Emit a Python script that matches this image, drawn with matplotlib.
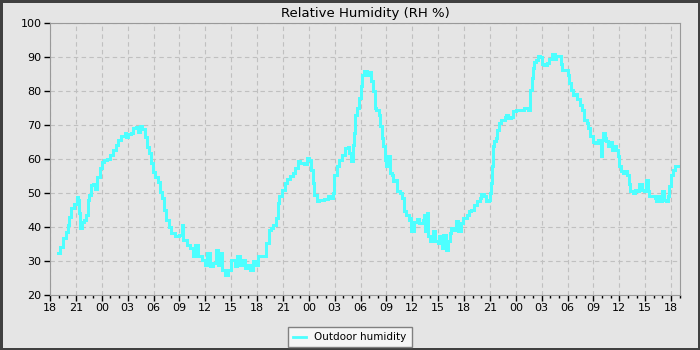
import matplotlib
matplotlib.use('Agg')
import matplotlib.pyplot as plt
from matplotlib.ticker import MultipleLocator, FuncFormatter

# hours since 18:00 on the first day, and outdoor RH %
hours = [0.88, 1.2, 1.46, 1.85, 2.04, 2.23, 2.42, 2.73, 3.08, 3.27, 3.42, 3.5, 3.7, 3.96, 4.15,
         4.35, 4.5, 4.73, 5.04, 5.23, 5.5, 5.77, 6.0, 6.27, 6.65, 6.96, 7.3, 7.6, 7.9, 8.27,
         8.65, 8.85, 9.04, 9.35, 9.65, 10.0, 10.2, 10.4, 10.7, 10.96, 11.2, 11.46, 11.73, 11.96,
         12.2, 12.5, 12.7, 13.0, 13.27, 13.5, 13.8, 14.04, 14.2, 14.5, 14.9, 15.27, 15.46,
         15.85, 16.2, 16.6, 16.8, 17.2, 17.6, 17.96, 18.15, 18.5, 18.9, 19.2, 19.5, 19.7, 19.9,
         20.3, 20.65, 21.04, 21.4, 21.7, 22.0, 22.3, 22.6, 23.0, 23.15, 23.5, 23.85, 24.1,
         24.5, 24.9, 25.1, 25.35, 25.65, 25.9, 26.15, 26.4, 26.6, 26.9, 27.2, 27.46, 27.8,
         28.15, 28.46, 28.7, 29.0, 29.4, 29.8, 30.08, 30.27, 30.46, 30.65, 30.96, 31.2, 31.8,
         32.2, 32.6, 32.8, 32.96, 33.27, 33.5, 33.9, 34.2, 34.5, 34.7, 34.9, 35.1, 35.27, 35.4,
         35.6, 35.85, 36.04, 36.15, 36.4, 36.7, 37.1, 37.27, 37.5, 37.65, 37.85, 38.1, 38.3,
         38.5, 38.65, 38.8, 39.0, 39.2, 39.4, 39.6, 39.8, 40.1, 40.27, 40.6, 40.85, 41.04,
         41.3, 41.6, 41.8, 41.9, 42.2, 42.5, 42.8, 43.2, 43.35, 43.46, 43.7, 43.85, 44.1,
         44.35, 44.6, 45.0, 45.1, 45.4, 45.6, 45.9, 46.15, 46.35, 46.5, 46.8, 47.04, 47.3,
         47.6, 47.9, 48.3, 48.6, 48.85, 49.2, 49.5, 49.8, 50.0, 50.27, 50.6, 50.85, 51.04,
         51.15, 51.27, 51.4, 51.5, 51.7, 51.85, 52.0, 52.3, 52.7, 52.9, 53.1, 53.46, 53.65,
         54.04, 54.6, 54.9, 55.2, 55.4, 55.6, 55.7, 55.85, 55.96, 56.15, 56.35, 56.6, 56.8,
         57.04, 57.3, 57.6, 57.8, 58.2, 58.5, 58.7, 59.0, 59.2, 59.4, 59.8, 60.0, 60.2, 60.4,
         60.6, 60.9, 61.15, 61.4, 61.65, 61.9, 62.2, 62.4, 62.6, 62.9, 63.2, 63.5, 63.65,
         63.85, 63.96, 64.1, 64.35, 64.5, 64.7, 64.9, 65.1, 65.3, 65.6, 65.8, 65.96, 66.15,
         66.4, 66.65, 66.9, 67.1, 67.3, 67.6, 67.8, 68.1, 68.27, 68.6, 68.85, 69.1, 69.3,
         69.5, 69.8, 70.1, 70.27, 70.5, 70.7, 70.9, 71.15, 71.4, 71.65, 71.8, 71.96, 72.2,
         72.46, 72.77]
humidity = [32.5, 34.2, 36.7, 38.6, 40.6, 43.0, 45.5, 46.7, 48.9, 48.0, 44.0, 39.6, 41.6, 42.0, 43.5,
            48.0, 49.4, 52.4, 52.6, 51.1, 54.8, 57.3, 59.2, 59.7, 59.9, 61.2, 62.6, 64.1, 65.6, 66.8,
            67.7, 66.6, 67.4, 67.7, 69.0, 69.3, 68.0, 69.7, 68.7, 66.6, 63.6, 61.7, 58.7, 56.3,
            54.8, 53.3, 50.4, 48.4, 45.0, 42.0, 40.1, 38.1, 38.2, 37.3, 37.7, 40.7, 36.3,
            34.8, 33.8, 31.4, 34.8, 31.4, 30.4, 28.9, 32.4, 28.4, 29.4, 33.3, 28.9, 32.4, 27.5,
            26.0, 27.5, 30.4, 28.4, 31.4, 28.9, 30.4, 27.9, 28.9, 27.5, 29.9, 28.9, 31.4,
            31.6, 31.4, 35.3, 39.2, 39.7, 40.7, 42.6, 47.1, 49.0, 51.0, 52.9, 54.1, 54.9,
            55.9, 57.4, 59.3, 58.8, 58.6, 60.3, 59.8, 56.9, 52.9, 49.5, 47.5, 48.0, 48.2,
            49.0, 48.5, 50.0, 55.4, 58.0, 59.8, 61.3, 63.2, 63.5, 61.8, 59.3, 64.2, 67.6, 73.0,
            75.0, 77.9, 81.4, 84.8, 85.8, 84.8, 85.5, 82.8, 79.9, 75.0, 74.5, 73.0, 69.6,
            66.2, 63.7, 59.8, 57.8, 60.8, 55.9, 55.4, 53.4, 53.9, 50.5, 50.0, 48.5, 44.6,
            43.6, 42.2, 42.6, 38.7, 41.6, 42.4, 41.2, 42.2, 43.6, 38.7, 44.1, 37.3, 35.8,
            38.7, 35.8, 35.3, 37.3, 33.8, 37.7, 33.3, 35.8, 38.2, 39.7, 39.2, 41.7, 38.7,
            41.2, 42.6, 43.6, 44.6, 45.1, 46.6, 47.5, 48.5, 49.8, 49.0, 47.5, 48.0, 50.0,
            52.9, 57.8, 63.7, 65.2, 66.2, 68.6, 70.6, 71.6, 72.4, 73.0, 72.1, 72.3, 74.0,
            74.3, 74.3, 75.0, 75.0, 74.5, 77.0, 80.4, 83.8, 86.8, 88.4, 89.2, 90.2, 90.0,
            88.0, 87.5, 88.2, 89.4, 91.0, 89.4, 90.4, 90.2, 88.0, 86.1, 86.1, 84.8, 82.4, 80.2,
            78.9, 79.2, 77.6, 76.0, 74.5, 71.6, 70.6, 69.1, 66.7, 64.9, 64.7, 65.7, 65.2,
            60.8, 65.7, 67.5, 66.2, 65.2, 63.7, 64.9, 62.7, 63.7, 62.7, 60.8, 57.8, 56.4,
            55.9, 56.4, 55.4, 52.5, 50.5, 50.0, 51.0, 50.5, 52.5, 51.0, 50.5, 53.9, 50.5,
            49.0, 49.0, 48.5, 47.5, 49.0, 47.5, 50.5, 48.0, 47.5, 49.0, 52.0, 55.4, 56.9,
            58.0, 58.0]

start_hour = 18
bg = '#e5e5e5'

matplotlib.rc('font', family='DejaVu Sans', size=8)

fig = plt.figure(figsize=(7, 3.5), dpi=100, facecolor=bg, edgecolor='#404040', linewidth=2.5)
ax = fig.add_axes([50/700, 55/350, 630/700, 272/350])
ax.set_facecolor(bg)

ax.plot(hours, humidity, color='#4dffff', linewidth=2, drawstyle='steps-post',
        antialiased=False, label='Outdoor humidity')

ax.set_xlim(0, 73.04)
ax.set_ylim(20, 100)
ax.yaxis.set_major_locator(MultipleLocator(10))
ax.xaxis.set_major_locator(MultipleLocator(3))
ax.xaxis.set_minor_locator(MultipleLocator(1))
ax.xaxis.set_major_formatter(FuncFormatter(lambda x, pos: '{:02d}'.format(int(round(x + start_hour)) % 24)))

ax.grid(True, which='major', color='#c0c0c0', linestyle=(0, (4, 3)), linewidth=0.8)
ax.set_axisbelow(True)
for s in ax.spines.values():
    s.set_color('#999999')
ax.tick_params(which='major', direction='out', length=4, width=1, color='black', pad=2)
ax.tick_params(which='minor', direction='out', length=2.5, width=1, color='black')

ax.set_title('Relative Humidity (RH %)', fontsize=9.5, pad=4)

leg = ax.legend(loc='upper center', bbox_to_anchor=(0.5, 23/350), bbox_transform=fig.transFigure,
                borderaxespad=0, fancybox=False, framealpha=1, facecolor='#f5f5f5',
                edgecolor='#808080', handlelength=1.2, fontsize=7.5, borderpad=0.5)
leg.get_frame().set_linewidth(1)

fig.savefig('out.png', dpi=100, facecolor=bg, edgecolor='#404040')
